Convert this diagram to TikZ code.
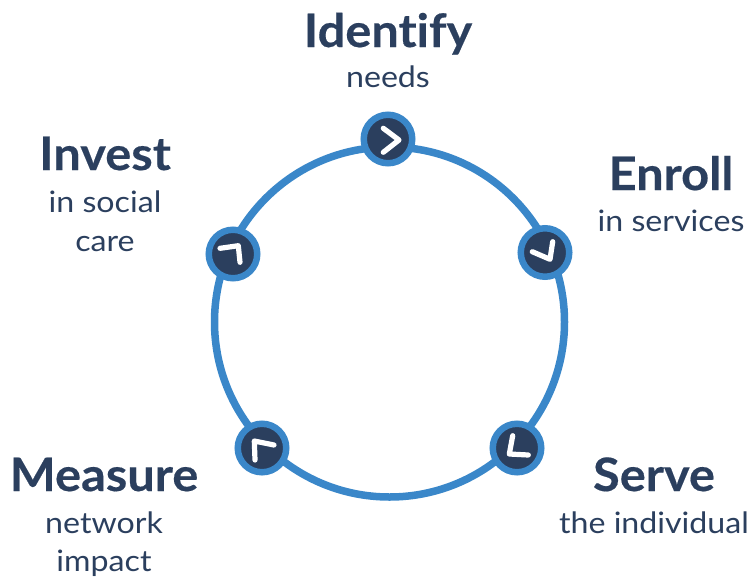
\documentclass[tikz,border=0pt]{standalone}
\usepackage{fontspec}
\setmainfont[Ligatures=NoCommon,FakeStretch=1.09,BoldFeatures={FakeStretch=1.06,FakeBold=0.35}]{Lato}
\definecolor{ringblue}{HTML}{3A87C9}
\definecolor{navy}{HTML}{2B3F5E}
\tikzset{
  title/.style={anchor=base,inner sep=0pt,text=navy,font=\fontsize{46}{46}\selectfont\bfseries},
  sub/.style={anchor=base,inner sep=0pt,text=navy,font=\fontsize{29.5}{29.5}\selectfont},
  hub/.style={circle,fill=navy,draw=ringblue,line width=6.5pt,minimum size=48.5pt,inner sep=0pt},
  ringline/.style={draw=ringblue,line width=7.5pt},
  chev/.style={draw=white,line width=5.2pt,line cap=round,line join=round}
}
\begin{document}
\begin{tikzpicture}[x=1pt,y=-1pt]
\useasboundingbox (0,0) rectangle (749,576);
\node[circle,ringline,minimum size=350pt,inner sep=0pt] (ring) at (389.5,322) {};
\node[hub] (identify) at (388,139) {};
\node[hub] (invest) at (233,254) {};
\node[hub] (enroll) at (545,252.5) {};
\node[hub] (measure) at (262,448) {};
\node[hub] (serve) at (517,448) {};
\draw[chev] (383.3,128.3) -- (399,140) -- (383.3,152.3);
\draw[chev] (220,248.3) -- (238.3,245.7) -- (240,262.3);
\draw[chev] (532.3,251.7) -- (550,259.3) -- (552.7,241.7);
\draw[chev] (255,460) -- (254.3,441) -- (274,445);
\draw[chev] (512.7,435.7) -- (509.3,454) -- (528.3,455);
\node[title] (t1) at (388,47) {Identify};
\node[sub] (s1) at (388,87) {needs};
\node[title] (t2) at (105,170) {Invest};
\node[sub] (s2a) at (105,212) {in social};
\node[sub] (s2b) at (105,251) {care};
\node[title] (t3) at (671,190) {Enroll};
\node[sub] (s3) at (671,231) {in services};
\node[title] (t4) at (104,491) {Measure};
\node[sub] (s4a) at (104,533) {network};
\node[sub] (s4b) at (104,571) {impact};
\node[title] (t5) at (654,491) {Serve};
\node[sub] (s5) at (654,533) {the individual};
\end{tikzpicture}
\end{document}
